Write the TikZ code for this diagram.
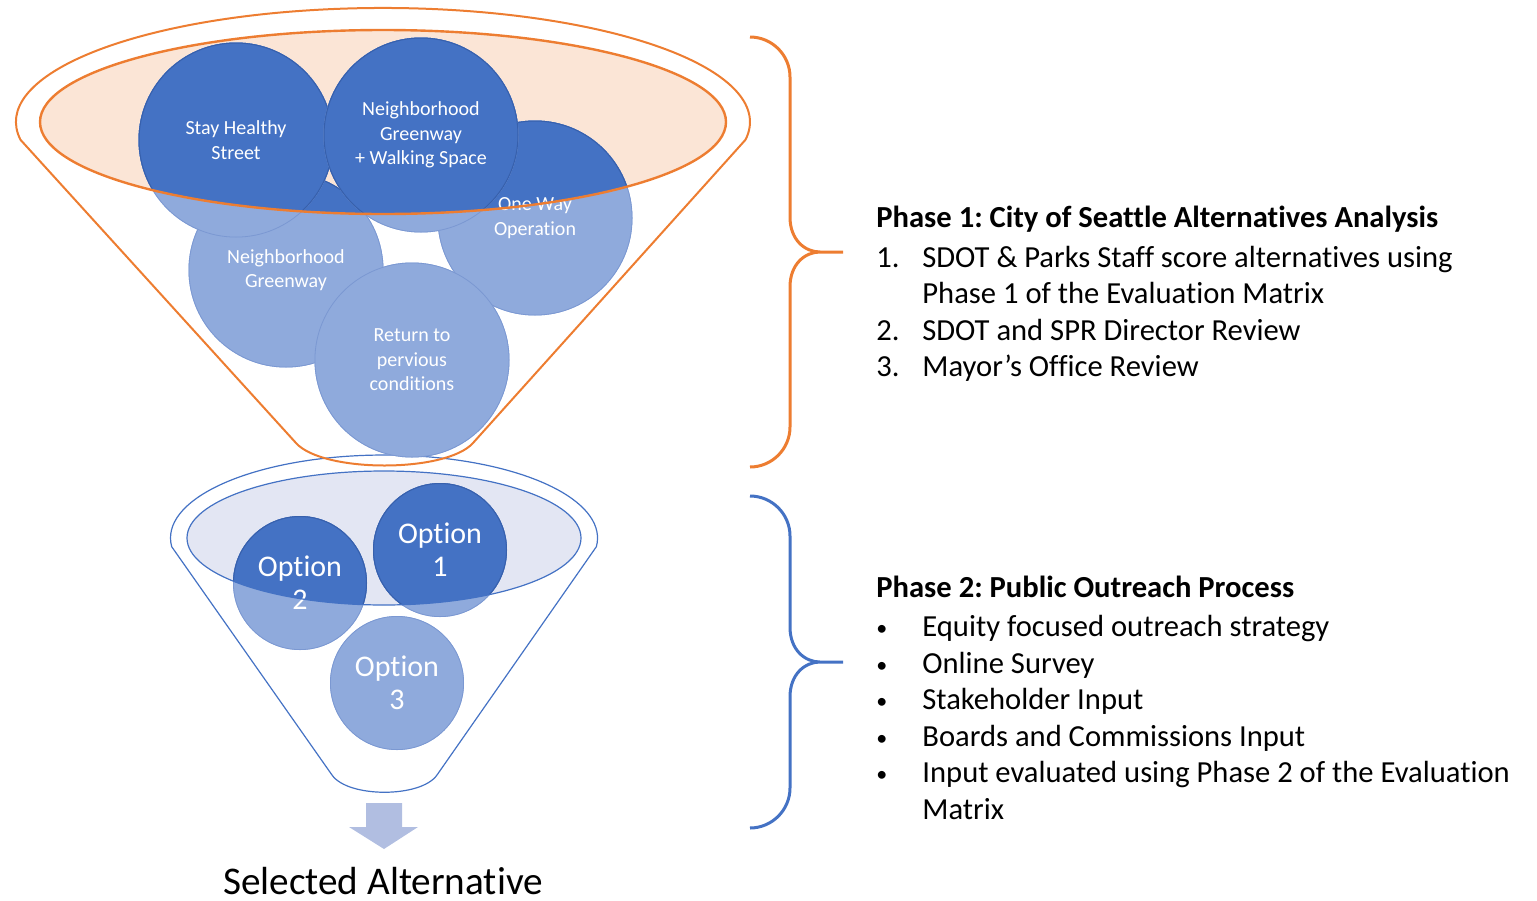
\documentclass[tikz,border=0pt]{standalone}
\usepackage{fontspec}
\setmainfont{Carlito}[Ligatures=NoCommon]
\frenchspacing
\definecolor{darkblue}{HTML}{4472C4}
\definecolor{liteblue}{HTML}{8FAADC}
\definecolor{rimdark}{HTML}{3760AC}
\definecolor{rimlite}{HTML}{7B98D2}
\definecolor{orng}{HTML}{ED7D31}
\definecolor{peach}{HTML}{FBE5D6}
\definecolor{lavender}{HTML}{E3E6F3}
\definecolor{arrowblue}{HTML}{B1BEE1}
\newcommand{\dotitem}{\raisebox{0.6pt}{\scalebox{0.72}{\textbullet}}}
\begin{document}
\begin{tikzpicture}[x=0.5pt, y=-0.5pt,
bubble/.style n args={4}{circle, minimum size=#4pt, inner sep=0pt, fill=liteblue, text=white, align=center,
  path picture={\draw[rimlite, line width=0.8pt] (path picture bounding box.center) circle [radius=#4];
    \fill[darkblue] (#1) ellipse [x radius=#2, y radius=#3];
    \clip (#1) ellipse [x radius=#2, y radius=#3];
    \draw[rimdark, line width=1pt] (path picture bounding box.center) circle [radius=#4];}},
top bubble/.style={bubble={top mid}{343}{92}{97.5}, font=\fontsize{10}{12.25}\selectfont},
low bubble/.style={bubble={low mid}{197}{67}{67}, font=\fontsize{15}{16.5}\selectfont},
phase/.style={anchor=north west, inner sep=0pt, font=\fontsize{15.3}{18.25}\selectfont}]
\useasboundingbox (0,0) rectangle (1537,900);
\coordinate (top mid) at (383,122);
\coordinate (low mid) at (384,538);

% lower funnel
\draw[darkblue, line width=0.6pt] (171.7,546.7) arc [start angle=174, end angle=366, x radius=213.5, y radius=83] -- (437,775) .. controls (421,798) and (348,798) .. (332,775) -- cycle;
\fill[lavender] (low mid) ellipse [x radius=197, y radius=67];
\begin{scope}[every node/.style={low bubble}]
\node (o3) at (397,683) {Option\\3};
\node (o2) at (300,583) {Option\\2};
\node (o1) at (440,550) {Option\\1};
\end{scope}
\draw[darkblue, line width=0.6pt] (low mid) ellipse [x radius=197, y radius=67];

% upper funnel
\fill[peach] (top mid) ellipse [x radius=343, y radius=92];
\begin{scope}[every node/.style={top bubble}]
\node (b4) at (286,270) {Neighborhood\\Greenway};
\node (b3) at (535,218) {One Way\\Operation};
\node (b5) at (412,360) {Return to\\pervious\\conditions};
\node (b1) at (236,140) {Stay Healthy\\Street};
\node (b2) at (421,135) {Neighborhood\\Greenway\\+ Walking Space};
\end{scope}
\draw[orng, line width=1.2pt] (top mid) ellipse [x radius=343, y radius=92];
\draw[orng, line width=1pt] (20.5,139.8) arc [start angle=171, end angle=369, x radius=367, y radius=114] -- (473,443) .. controls (446,473) and (323,473) .. (296,443) -- cycle;

% result
\fill[arrowblue] (366,803) -- (402,803) -- (402,827) -- (418,827) -- (384,849) -- (349,827) -- (366,827) -- cycle;
\node[anchor=base, inner sep=0pt, font=\fontsize{19.6}{24}\selectfont] (sel) at (383,894) {Selected Alternative};

% braces
\draw[orng, line width=1.5pt] (750,37) .. controls (772,37) and (790,55) .. (790,77) -- (790,217) .. controls (790,240) and (805,252) .. (820,252) -- (843,252)
  (820,252) .. controls (805,252) and (790,264) .. (790,287) -- (790,427) .. controls (790,449) and (772,467) .. (750,467);
\draw[darkblue, line width=1.5pt] (750,496) .. controls (772,496) and (790,514) .. (790,536) -- (790,627) .. controls (790,650) and (805,662) .. (820,662) -- (843,662)
  (820,662) .. controls (805,662) and (790,674) .. (790,697) -- (790,788) .. controls (790,810) and (772,828) .. (750,828);

\node[phase] (p1) at (876,202) {\begin{tabular}{@{}p{23pt}@{}l@{}}
\multicolumn{2}{@{}l@{}}{\textbf{Phase 1: City of Seattle Alternatives Analysis}}\\[1.5pt]
1. & SDOT \& Parks Staff score alternatives using\\
   & Phase 1 of the Evaluation Matrix\\
2. & SDOT and SPR Director Review\\
3. & Mayor’s Office Review
\end{tabular}};
\node[phase] (p2) at (876,572) {\begin{tabular}{@{}p{23pt}@{}l@{}}
\multicolumn{2}{@{}l@{}}{\textbf{Phase 2: Public Outreach Process}}\\[1.2pt]
\dotitem & Equity focused outreach strategy\\
\dotitem & Online Survey\\
\dotitem & Stakeholder Input\\
\dotitem & Boards and Commissions Input\\
\dotitem & Input evaluated using Phase 2 of the Evaluation\\
   & Matrix
\end{tabular}};
\end{tikzpicture}
\end{document}
